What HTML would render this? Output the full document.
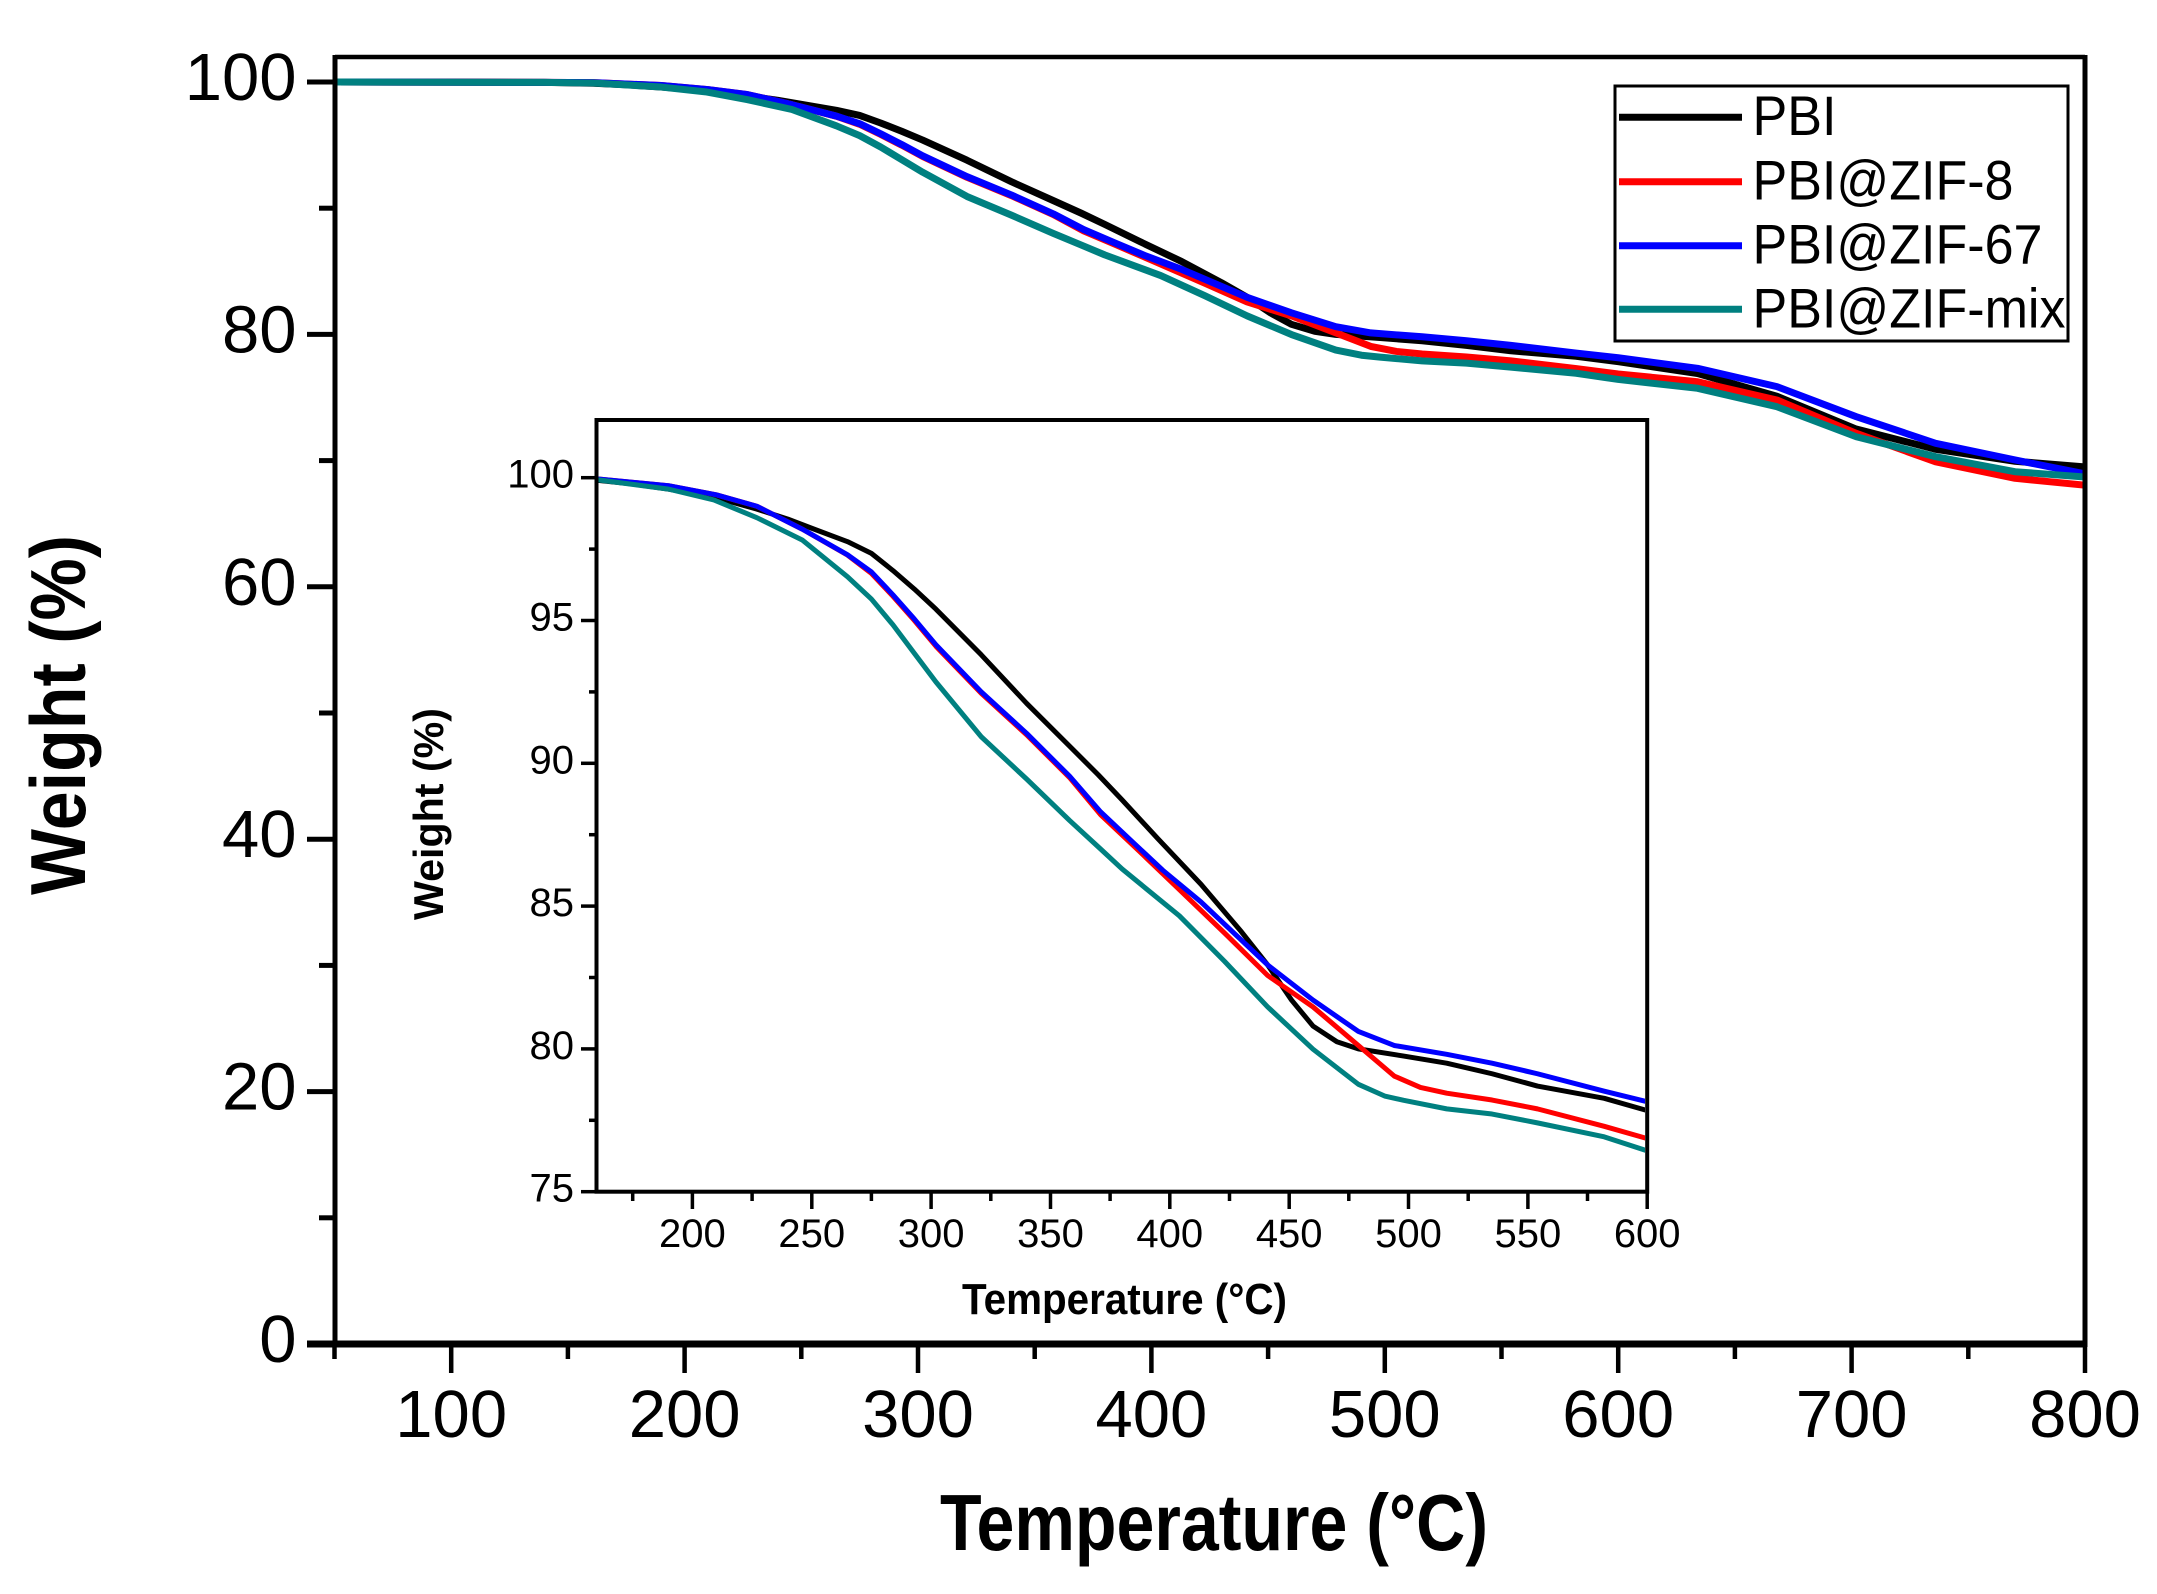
<!DOCTYPE html>
<html>
<head>
<meta charset="utf-8">
<style>
html,body{margin:0;padding:0;background:#fff;}
svg{display:block;}
text{font-family:"Liberation Sans",Arial,sans-serif;fill:#000;}
</style>
</head>
<body>
<svg width="2157" height="1594" viewBox="0 0 2157 1594" xmlns="http://www.w3.org/2000/svg">
<rect x="0" y="0" width="2157" height="1594" fill="#fff"/>
<defs>
<clipPath id="cm"><rect x="336" y="59" width="1747" height="1283"/></clipPath>
<clipPath id="ci"><rect x="598" y="422" width="1047" height="768"/></clipPath>
</defs>

<!-- MAIN CURVES -->
<g clip-path="url(#cm)">
<g transform="matrix(2.334 0 0 -12.62 217.8 1344)" fill="none" stroke-linejoin="round">
<polyline vector-effect="non-scaling-stroke" stroke="#000" stroke-width="7" points="50,100 100,100 140,99.97 161,99.9 175,99.78 190,99.6 210,99.3 227,98.9 240,98.55 250,98.23 265,97.76 275,97.35 284,96.75 293,96.1 302,95.4 321,93.8 340,92.1 358,90.6 370,89.6 380,88.72 395,87.36 413,85.77 430,84.1 441,82.94 451,81.71 460,80.8 470,80.25 479,80 498,79.75 516,79.5 535,79.13 554,78.7 582,78.27 600,77.84 634,76.9 668,75.1 702,72.5 736,70.9 770,69.95 800,69.5"/>
<polyline vector-effect="non-scaling-stroke" stroke="#f00" stroke-width="7" points="50,100 140,99.97 161,99.95 190,99.72 210,99.4 227,99 246,98.2 265,97.29 275,96.65 284,95.85 293,95 302,94.1 321,92.45 340,91 358,89.5 371,88.2 385,87.1 400,85.9 423,84.05 441,82.57 460,81.47 479,80.12 494,79.05 505,78.65 516,78.45 535,78.21 554,77.9 582,77.29 600,76.86 634,76.25 668,74.8 702,72.16 736,69.9 770,68.6 800,68.05"/>
<polyline vector-effect="non-scaling-stroke" stroke="#00f" stroke-width="7" points="50,100 140,99.97 161,99.95 190,99.72 210,99.4 227,99 246,98.2 265,97.3 275,96.7 284,95.9 293,95.05 302,94.15 321,92.5 340,91.05 358,89.55 371,88.3 385,87.2 397,86.26 413,85.15 441,82.94 460,81.71 479,80.61 494,80.12 516,79.81 535,79.5 554,79.13 582,78.52 600,78.15 634,77.31 668,75.86 702,73.48 736,71.37 770,70.05 800,68.95"/>
<polyline vector-effect="non-scaling-stroke" stroke="#008080" stroke-width="7" points="50,100 140,99.97 161,99.92 190,99.6 209,99.22 227,98.6 246,97.82 265,96.53 275,95.75 284,94.85 293,93.85 302,92.85 321,90.93 340,89.45 358,88 371,87 380,86.3 404,84.66 423,83.06 441,81.47 460,79.99 479,78.76 490,78.35 498,78.2 516,77.9 535,77.72 554,77.41 582,76.92 600,76.43 634,75.73 668,74.27 702,71.89 736,70.31 770,69.12 800,68.7"/>
</g>
</g>

<!-- MAIN FRAME -->
<g stroke="#000" fill="none">
<line x1="335" y1="57" x2="2085" y2="57" stroke-width="4.5"/>
<line x1="335" y1="55" x2="335" y2="1347" stroke-width="5"/>
<line x1="2085" y1="55" x2="2085" y2="1347" stroke-width="5"/>
<line x1="307" y1="1344" x2="2087" y2="1344" stroke-width="7"/>
</g>
<!-- main y ticks -->
<g stroke="#000" stroke-width="5">
<line x1="307" y1="1344" x2="335" y2="1344"/>
<line x1="307" y1="1091.6" x2="335" y2="1091.6"/>
<line x1="307" y1="839.2" x2="335" y2="839.2"/>
<line x1="307" y1="586.8" x2="335" y2="586.8"/>
<line x1="307" y1="334.4" x2="335" y2="334.4"/>
<line x1="307" y1="82" x2="335" y2="82"/>
<line x1="319" y1="1217.8" x2="335" y2="1217.8"/>
<line x1="319" y1="965.4" x2="335" y2="965.4"/>
<line x1="319" y1="713" x2="335" y2="713"/>
<line x1="319" y1="460.6" x2="335" y2="460.6"/>
<line x1="319" y1="208.2" x2="335" y2="208.2"/>
</g>
<!-- main x ticks -->
<g stroke="#000" stroke-width="4.5">
<line x1="451.2" y1="1344" x2="451.2" y2="1373"/>
<line x1="684.6" y1="1344" x2="684.6" y2="1373"/>
<line x1="918" y1="1344" x2="918" y2="1373"/>
<line x1="1151.4" y1="1344" x2="1151.4" y2="1373"/>
<line x1="1384.8" y1="1344" x2="1384.8" y2="1373"/>
<line x1="1618.2" y1="1344" x2="1618.2" y2="1373"/>
<line x1="1851.6" y1="1344" x2="1851.6" y2="1373"/>
<line x1="2085" y1="1344" x2="2085" y2="1373"/>
<line x1="334.5" y1="1344" x2="334.5" y2="1359"/>
<line x1="567.9" y1="1344" x2="567.9" y2="1359"/>
<line x1="801.3" y1="1344" x2="801.3" y2="1359"/>
<line x1="1034.7" y1="1344" x2="1034.7" y2="1359"/>
<line x1="1268.1" y1="1344" x2="1268.1" y2="1359"/>
<line x1="1501.5" y1="1344" x2="1501.5" y2="1359"/>
<line x1="1734.9" y1="1344" x2="1734.9" y2="1359"/>
<line x1="1968.3" y1="1344" x2="1968.3" y2="1359"/>
</g>
<!-- main y labels -->
<g font-size="67" text-anchor="end">
<text x="296.5" y="1362">0</text>
<text x="296.5" y="1109.6">20</text>
<text x="296.5" y="857.2">40</text>
<text x="296.5" y="604.8">60</text>
<text x="296.5" y="352.4">80</text>
<text x="296.5" y="100">100</text>
</g>
<!-- main x labels -->
<g font-size="67" text-anchor="middle">
<text x="451.2" y="1437">100</text>
<text x="684.6" y="1437">200</text>
<text x="918" y="1437">300</text>
<text x="1151.4" y="1437">400</text>
<text x="1384.8" y="1437">500</text>
<text x="1618.2" y="1437">600</text>
<text x="1851.6" y="1437">700</text>
<text x="2085" y="1437">800</text>
</g>
<!-- main titles -->
<text x="940" y="1550" font-size="80" font-weight="bold" textLength="548" lengthAdjust="spacingAndGlyphs">Temperature (°C)</text>
<text transform="translate(85,895) rotate(-90)" font-size="78" font-weight="bold" textLength="360" lengthAdjust="spacingAndGlyphs">Weight (%)</text>

<!-- LEGEND -->
<rect x="1615" y="86" width="453" height="255" fill="#fff" stroke="#000" stroke-width="3"/>
<g stroke-width="7">
<line x1="1619" y1="117.3" x2="1742" y2="117.3" stroke="#000"/>
<line x1="1619" y1="181.7" x2="1742" y2="181.7" stroke="#f00"/>
<line x1="1619" y1="245.7" x2="1742" y2="245.7" stroke="#00f"/>
<line x1="1619" y1="309.3" x2="1742" y2="309.3" stroke="#008080"/>
</g>
<g font-size="56">
<text x="1752.5" y="135" textLength="84" lengthAdjust="spacingAndGlyphs">PBI</text>
<text x="1752.5" y="199.3" textLength="261" lengthAdjust="spacingAndGlyphs">PBI@ZIF-8</text>
<text x="1752.5" y="263.3" textLength="290" lengthAdjust="spacingAndGlyphs">PBI@ZIF-67</text>
<text x="1752.5" y="327.3" textLength="313" lengthAdjust="spacingAndGlyphs">PBI@ZIF-mix</text>
</g>

<!-- INSET -->
<rect x="596.5" y="420" width="1050.7" height="771.7" fill="#fff"/>
<g clip-path="url(#ci)">
<g transform="matrix(2.387 0 0 -28.56 215 3333.7)" fill="none" stroke-linejoin="round">
<polyline vector-effect="non-scaling-stroke" stroke="#000" stroke-width="5" points="150,99.95 161,99.9 175,99.78 190,99.6 210,99.3 227,98.9 240,98.55 250,98.23 265,97.76 275,97.35 284,96.75 293,96.1 302,95.4 321,93.8 340,92.1 358,90.6 370,89.6 380,88.72 395,87.36 413,85.77 430,84.1 441,82.94 451,81.71 460,80.8 470,80.25 479,80 498,79.75 516,79.5 535,79.13 554,78.7 582,78.27 600,77.84 634,76.9"/>
<polyline vector-effect="non-scaling-stroke" stroke="#f00" stroke-width="5" points="150,99.97 161,99.95 190,99.72 210,99.4 227,99 246,98.2 265,97.29 275,96.65 284,95.85 293,95 302,94.1 321,92.45 340,91 358,89.5 371,88.2 385,87.1 400,85.9 423,84.05 441,82.57 460,81.47 479,80.12 494,79.05 505,78.65 516,78.45 535,78.21 554,77.9 582,77.29 600,76.86 634,76.25"/>
<polyline vector-effect="non-scaling-stroke" stroke="#00f" stroke-width="5" points="150,99.97 161,99.95 190,99.72 210,99.4 227,99 246,98.2 265,97.3 275,96.7 284,95.9 293,95.05 302,94.15 321,92.5 340,91.05 358,89.55 371,88.3 385,87.2 397,86.26 413,85.15 441,82.94 460,81.71 479,80.61 494,80.12 516,79.81 535,79.5 554,79.13 582,78.52 600,78.15 634,77.31"/>
<polyline vector-effect="non-scaling-stroke" stroke="#008080" stroke-width="5" points="150,99.97 161,99.92 190,99.6 209,99.22 227,98.6 246,97.82 265,96.53 275,95.75 284,94.85 293,93.85 302,92.85 321,90.93 340,89.45 358,88 371,87 380,86.3 404,84.66 423,83.06 441,81.47 460,79.99 479,78.76 490,78.35 498,78.2 516,77.9 535,77.72 554,77.41 582,76.92 600,76.43 634,75.73"/>
</g>
</g>
<rect x="596.5" y="420" width="1050.7" height="771.7" fill="none" stroke="#000" stroke-width="4"/>
<!-- inset y ticks -->
<g stroke="#000" stroke-width="3.5">
<line x1="581" y1="1191.7" x2="597" y2="1191.7"/>
<line x1="581" y1="1048.9" x2="597" y2="1048.9"/>
<line x1="581" y1="906.1" x2="597" y2="906.1"/>
<line x1="581" y1="763.3" x2="597" y2="763.3"/>
<line x1="581" y1="620.5" x2="597" y2="620.5"/>
<line x1="581" y1="477.7" x2="597" y2="477.7"/>
<line x1="589" y1="1120.3" x2="597" y2="1120.3"/>
<line x1="589" y1="977.5" x2="597" y2="977.5"/>
<line x1="589" y1="834.7" x2="597" y2="834.7"/>
<line x1="589" y1="691.9" x2="597" y2="691.9"/>
<line x1="589" y1="549.1" x2="597" y2="549.1"/>
</g>
<!-- inset x ticks -->
<g stroke="#000" stroke-width="3.5">
<line x1="692.4" y1="1192" x2="692.4" y2="1209"/>
<line x1="811.8" y1="1192" x2="811.8" y2="1209"/>
<line x1="931.1" y1="1192" x2="931.1" y2="1209"/>
<line x1="1050.5" y1="1192" x2="1050.5" y2="1209"/>
<line x1="1169.8" y1="1192" x2="1169.8" y2="1209"/>
<line x1="1289.2" y1="1192" x2="1289.2" y2="1209"/>
<line x1="1408.5" y1="1192" x2="1408.5" y2="1209"/>
<line x1="1527.9" y1="1192" x2="1527.9" y2="1209"/>
<line x1="1647.2" y1="1192" x2="1647.2" y2="1209"/>
<line x1="632.7" y1="1192" x2="632.7" y2="1201"/>
<line x1="752.1" y1="1192" x2="752.1" y2="1201"/>
<line x1="871.4" y1="1192" x2="871.4" y2="1201"/>
<line x1="990.8" y1="1192" x2="990.8" y2="1201"/>
<line x1="1110.1" y1="1192" x2="1110.1" y2="1201"/>
<line x1="1229.5" y1="1192" x2="1229.5" y2="1201"/>
<line x1="1348.8" y1="1192" x2="1348.8" y2="1201"/>
<line x1="1468.2" y1="1192" x2="1468.2" y2="1201"/>
<line x1="1587.5" y1="1192" x2="1587.5" y2="1201"/>
</g>
<!-- inset labels -->
<g font-size="40" text-anchor="end">
<text x="574" y="1201.7">75</text>
<text x="574" y="1058.9">80</text>
<text x="574" y="916.1">85</text>
<text x="574" y="773.3">90</text>
<text x="574" y="630.5">95</text>
<text x="574" y="487.7">100</text>
</g>
<g font-size="40" text-anchor="middle">
<text x="692.4" y="1247">200</text>
<text x="811.8" y="1247">250</text>
<text x="931.1" y="1247">300</text>
<text x="1050.5" y="1247">350</text>
<text x="1169.8" y="1247">400</text>
<text x="1289.2" y="1247">450</text>
<text x="1408.5" y="1247">500</text>
<text x="1527.9" y="1247">550</text>
<text x="1647.2" y="1247">600</text>
</g>
<text x="962" y="1314" font-size="44" font-weight="bold" textLength="325" lengthAdjust="spacingAndGlyphs">Temperature (°C)</text>
<text transform="translate(443,920) rotate(-90)" font-size="42" font-weight="bold" textLength="212" lengthAdjust="spacingAndGlyphs">Weight (%)</text>
</svg>
</body>
</html>
